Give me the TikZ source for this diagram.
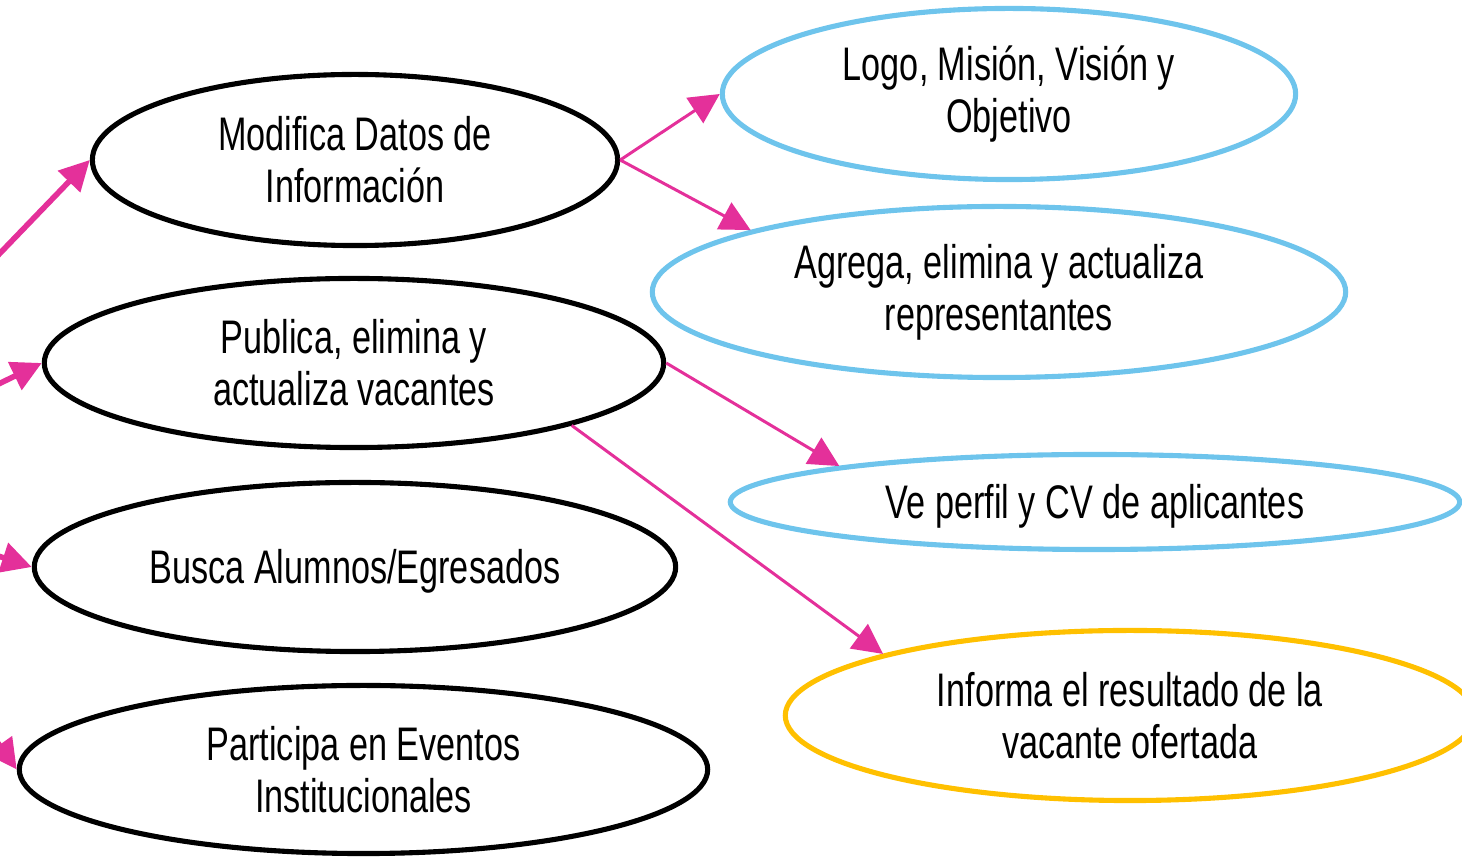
\documentclass[tikz,border=0pt]{standalone}
\usepackage{fontspec}
\setmainfont{Liberation Sans}[FakeStretch=0.726]
\usetikzlibrary{shapes.geometric,arrows.meta}
\definecolor{pinkc}{RGB}{228,48,154}
\definecolor{bluec}{RGB}{110,196,236}
\definecolor{yellc}{RGB}{255,192,0}
\tikzset{
  oval/.style={ellipse, draw=black, line width=1.45pt, inner sep=0pt},
  bluoval/.style={oval, draw=bluec},
  yeloval/.style={oval, draw=yellc},
  txt/.style={align=center, inner sep=0pt,
    font=\fontsize{13.4pt}{14.8pt}\selectfont},
  txtone/.style={txt, yshift=-0.045cm},
  arr/.style={draw=pinkc, line width=0.85pt, -{Triangle[length=0.3cm,width=0.3cm]}, color=pinkc},
  arrthick/.style={arr, line width=1.6pt}
}
\begin{document}
\begin{tikzpicture}[x=0.01cm,y=-0.01cm]
\useasboundingbox (0,0) rectangle (1462,858);
\node[oval, minimum width=5.25cm, minimum height=1.71cm] (mod) at (355,160) {};
\node[oval, minimum width=6.19cm, minimum height=1.69cm] (pub) at (354,363) {};
\node[oval, minimum width=6.41cm, minimum height=1.69cm] (bus) at (355,567) {};
\node[oval, minimum width=6.88cm, minimum height=1.68cm] (par) at (363.5,769.5) {};
\node[bluoval, minimum width=5.73cm, minimum height=1.71cm] (logo) at (1009,94) {};
\node[bluoval, minimum width=6.93cm, minimum height=1.71cm] (agr) at (999,292) {};
\node[bluoval, minimum width=7.29cm, minimum height=0.95cm] (ve) at (1095,502) {};
\node[yeloval, minimum width=6.89cm, minimum height=1.70cm] (inf) at (1130,715.5) {};
\node[txt] (modt) at (mod.center) {Modifica Datos de\\Información};
\node[txt] (pubt) at (pub.center) {Publica, elimina y\\actualiza vacantes};
\node[txtone] (bust) at (bus.center) {Busca Alumnos/Egresados};
\node[txt] (part) at (par.center) {Participa en Eventos\\Institucionales};
\node[txt] (logot) at (logo.center) {Logo, Misión, Visión y\\Objetivo};
\node[txt] (agrt) at (agr.center) {Agrega, elimina y actualiza\\representantes};
\node[txtone] (vet) at (ve.center) {Ve perfil y CV de aplicantes};
\node[txt] (inft) at (inf.center) {Informa el resultado de la\\vacante ofertada};
\coordinate (s1) at (-20,274);
\coordinate (s2) at (-20,393);
\coordinate (s3) at (-20,550);
\coordinate (s4) at (-15,725);
\draw[arrthick] (s1) -- (mod.west);
\draw[arrthick] (s2) -- (pub.west);
\draw[arrthick] (s3) -- (bus.west);
\draw[arrthick] (s4) -- (par.west);
\draw[arr] (mod.east) -- (logo.west);
\draw[arr] (mod.east) -- (agr.166);
\draw[arr] (pub.east) -- (ve.172);
\draw[arr] (pub.344.6) -- (inf.166);
\end{tikzpicture}
\end{document}
